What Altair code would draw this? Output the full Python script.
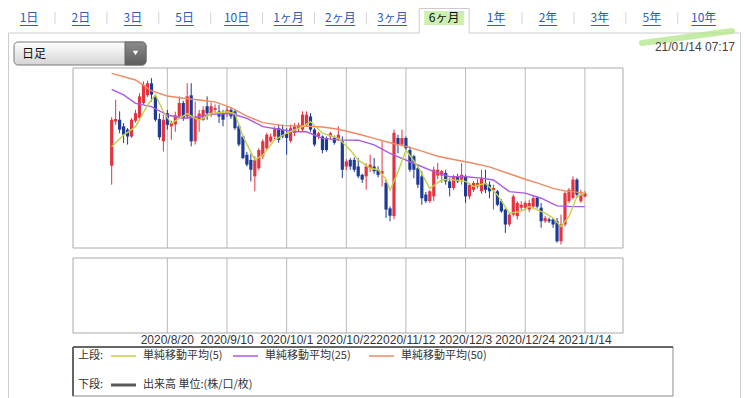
import altair as alt
import pandas as pd

# ---------------- data ----------------
opens = [104.67,105.88,105.93,105.75,105.66,105.47,105.90,105.98,106.39,106.60,
         106.93,106.57,105.95,105.34,106.11,105.75,105.80,106.02,106.39,106.02,
         106.60,105.34,105.95,105.93,106.30,106.07,106.20,106.16,106.11,106.11,
         106.20,106.16,105.75,105.47,104.97,104.83,104.38,104.60,104.93,105.15,
         105.34,105.47,105.70,105.66,105.56,105.35,105.57,105.70,105.66,105.79,
         106.02,105.66,105.47,105.47,105.43,105.47,105.43,105.38,105.34,104.65,
         104.83,104.83,104.65,104.42,104.38,104.60,104.65,104.56,104.45,104.20,
         103.50,103.29,105.43,105.25,105.43,105.10,104.93,104.60,104.38,103.88,
         103.70,103.83,104.40,104.40,104.47,104.24,104.06,104.38,104.29,104.38,
         103.83,104.01,104.10,103.97,104.20,104.15,104.00,103.97,103.70,103.47,
         103.06,103.33,103.29,103.52,103.52,103.47,103.55,103.80,103.52,103.15,
         103.20,103.20,103.15,102.60,103.06,103.70,103.79,104.29,103.70,103.83]
highs = [106.00,106.48,106.16,105.84,105.70,105.98,106.20,106.66,106.98,107.00,
         107.07,106.62,106.10,106.07,106.20,105.90,106.15,106.57,106.45,106.93,
         106.93,106.43,106.20,106.30,106.57,106.40,106.35,106.34,106.20,106.30,
         106.25,106.20,105.80,105.50,105.05,105.00,104.93,105.15,105.40,105.57,
         105.55,105.75,105.80,105.80,105.70,105.80,105.84,105.85,106.16,106.16,
         106.11,105.70,105.60,105.50,105.47,105.60,105.50,105.75,105.47,104.85,
         104.88,104.90,104.88,104.45,104.74,104.97,104.88,104.65,105.34,104.30,
         103.55,105.66,105.52,105.66,105.47,105.20,104.97,104.70,104.52,103.95,
         104.00,104.65,104.75,104.56,104.56,104.33,104.42,104.45,104.74,104.42,
         104.20,104.25,104.30,104.56,104.56,104.24,104.15,104.01,103.75,103.50,
         103.38,103.88,103.70,103.70,103.70,103.74,103.85,103.83,103.65,103.30,
         103.25,103.24,103.24,103.33,103.97,104.06,104.38,104.33,104.01,103.97]
lows = [104.15,105.79,105.56,105.29,105.25,105.43,105.85,105.90,106.35,106.55,
        106.43,105.88,105.38,105.06,105.66,105.38,105.60,106.00,105.90,105.95,
        105.20,105.25,105.60,105.90,105.93,106.00,106.10,105.84,105.75,106.00,
        105.95,105.65,105.20,104.85,104.65,104.24,103.97,104.55,104.85,105.10,
        105.30,105.40,105.30,105.42,104.97,105.30,105.48,105.60,105.61,105.75,
        105.60,105.20,105.40,105.01,105.06,105.40,105.25,105.35,104.33,104.55,
        104.56,104.50,104.33,104.20,104.01,104.50,104.45,104.35,104.10,103.24,
        103.15,103.20,105.01,105.20,105.06,104.50,104.33,104.06,103.60,103.65,
        103.65,103.70,104.30,104.20,104.15,103.83,104.00,104.20,104.15,103.65,
        103.75,103.95,104.05,103.90,103.92,103.78,103.47,103.56,103.38,102.83,
        103.00,103.28,103.20,103.45,103.45,103.40,103.50,103.50,102.97,103.10,
        103.10,102.97,102.56,102.51,103.00,103.65,103.75,103.79,103.65,103.80]
closes = [105.93,105.95,105.66,105.52,105.47,105.93,106.11,106.57,106.89,106.93,
          106.62,105.93,105.45,105.93,105.79,105.84,106.05,106.39,105.98,106.57,
          105.34,106.02,106.10,106.20,106.11,106.30,106.25,106.02,105.93,106.20,
          106.02,105.70,105.25,104.88,104.70,104.56,104.83,105.10,105.34,105.52,
          105.47,105.70,105.38,105.47,105.43,105.70,105.75,105.79,106.07,106.07,
          105.66,105.25,105.56,105.10,105.10,105.56,105.30,105.52,104.56,104.79,
          104.65,104.56,104.38,104.29,104.65,104.70,104.52,104.42,104.52,103.47,
          103.30,105.57,105.25,105.43,105.15,104.56,104.56,104.15,103.78,103.70,
          103.97,104.56,104.56,104.52,104.24,104.06,104.38,104.24,104.42,103.83,
          104.15,104.20,104.20,104.33,104.01,103.97,104.06,103.60,103.42,103.06,
          103.33,103.83,103.65,103.60,103.65,103.65,103.78,103.55,103.15,103.24,
          103.15,103.06,102.60,103.06,103.92,104.01,104.29,103.88,103.88,103.92]

ma5_idx = [0,3,6,9,11,13,15,17,19,21,22,25,29,31,33,36,38,41,44,48,50,53,57,60,62,65,67,
           69,70,72,74,77,80,83,85,89,91,94,97,100,103,105,109,111,113,115,117,119]
ma5_val = [105.19,105.51,105.74,106.33,106.61,106.15,105.83,105.97,106.10,105.97,105.92,
           106.10,106.15,106.10,105.47,104.83,104.96,105.38,105.56,105.74,105.88,105.56,
           105.42,105.10,104.83,104.60,104.56,104.30,104.00,104.50,105.10,104.65,104.05,
           104.28,104.30,104.24,104.10,104.19,103.87,103.37,103.42,103.55,103.37,103.24,
           103.00,103.28,103.82,103.92]
ma25_idx = [0,3,6,10,14,18,21,25,30,34,38,42,46,49,53,57,62,66,70,73,77,81,85,89,93,96,
            100,104,108,112,116,119]
ma25_val = [106.76,106.61,106.38,106.29,106.06,105.97,106.00,106.08,106.10,105.97,105.74,
            105.67,105.60,105.60,105.42,105.38,105.37,105.24,105.01,104.87,104.69,104.51,
            104.37,104.37,104.33,104.28,103.96,103.92,103.78,103.57,103.55,103.55]
ma50_idx = [0,6,10,14,18,22,26,30,34,38,43,48,53,57,62,66,70,74,78,82,86,90,95,100,104,
            107,111,114,119]
ma50_val = [107.20,107.02,106.72,106.58,106.52,106.47,106.42,106.26,106.03,105.85,105.77,
            105.76,105.73,105.67,105.54,105.42,105.30,105.20,105.07,104.93,104.84,104.76,
            104.64,104.45,104.30,104.20,104.05,103.98,103.92]

tick_idx = [14, 29, 44, 59, 74, 89, 104, 119]
tick_labels = ["2020/8/20", "2020/9/10", "2020/10/1", "2020/10/22",
               "2020/11/12", "2020/12/3", "2020/12/24", "2021/1/14"]
y_ticks = [103, 104, 105, 106, 107]

tabs = ["1日", "2日", "3日", "5日", "10日", "1ヶ月", "2ヶ月", "3ヶ月", "6ヶ月",
        "1年", "2年", "3年", "5年", "10年"]
selected_tab = "6ヶ月"
period_label = "日足"
timestamp = "21/01/14 07:17"
legend_upper_head = "上段:"
legend_lower_head = "下段:"
legend_upper = ["単純移動平均(5)", "単純移動平均(25)", "単純移動平均(50)"]
legend_lower = "出来高 単位:(株/口/枚)"

# ---------------- tables ----------------
candles = pd.DataFrame({"idx": list(range(len(opens))), "o": opens, "h": highs,
                        "l": lows, "c": closes})
candles["dir"] = ["up" if c >= o else "down" for o, c in zip(opens, closes)]
ma5 = pd.DataFrame({"idx": ma5_idx, "v": ma5_val})
ma25 = pd.DataFrame({"idx": ma25_idx, "v": ma25_val})
ma50 = pd.DataFrame({"idx": ma50_idx, "v": ma50_val})
ticks = pd.DataFrame({"idx": tick_idx, "label": tick_labels})
tabs_df = pd.DataFrame({"tab": tabs, "k": list(range(len(tabs)))})
one = pd.DataFrame({"k": [0]})

W, H = 550, 180
RED, BLUE = "#e5333f", "#1d3a96"
C5, C25, C50 = "#c3d147", "#ac58e6", "#ec8a62"
JP = "Noto Sans CJK JP"
NUM = "Liberation Sans"

xs = alt.Scale(domain=[-8.47, 127.33], nice=False, zero=False)
ys = alt.Scale(domain=[102.416, 107.348], nice=False, zero=False)
col = alt.Color("dir:N", scale=alt.Scale(domain=["up", "down"], range=[RED, BLUE]), legend=None)


def rect(x0, x1, y0, y1, **kw):
    return alt.Chart(one).mark_rect(**kw).encode(
        x=alt.value(x0), x2=alt.value(x1), y=alt.value(y0), y2=alt.value(y1))


def seg(x0, x1, y0, y1, **kw):
    return alt.Chart(one).mark_rule(**kw).encode(
        x=alt.value(x0), x2=alt.value(x1), y=alt.value(y0), y2=alt.value(y1))


def txt(s, x, y, **kw):
    return alt.Chart(one).mark_text(text=s, baseline="middle", **kw).encode(
        x=alt.value(x), y=alt.value(y))


layers = []
BOTTOM = 330

# ---- header: tabs ----
sel_k = tabs.index(selected_tab)
TAB0, STEP = -44, 51.9
sel_x = TAB0 + sel_k * STEP
layers.append(rect(sel_x - 20, sel_x + 20, -57, -43, fill="#c6eda0", opacity=0.85))
layers.append(seg(sel_x - 25, sel_x - 25, -59.5, -35, color="#cccccc"))
layers.append(seg(sel_x + 25, sel_x + 25, -59.5, -35, color="#cccccc"))
layers.append(seg(sel_x - 25, sel_x + 25, -59.5, -59.5, color="#cccccc"))
layers.append(seg(-64.5, sel_x - 25, -35, -35, color="#cccccc"))
layers.append(seg(sel_x + 25, 667.5, -35, -35, color="#cccccc"))
layers.append(seg(-64.5, -64.5, -35, BOTTOM, color="#cccccc"))
layers.append(seg(667.5, 667.5, -35, BOTTOM, color="#cccccc"))

layers.append(
    alt.Chart(tabs_df).transform_calculate(px=f"{TAB0} + datum.k * {STEP}")
    .mark_text(font=JP, fontSize=12, baseline="middle")
    .encode(x=alt.X("px:Q", scale=None), y=alt.value(-50), text="tab:N",
            color=alt.condition(alt.datum.tab == selected_tab, alt.value("#111111"),
                                alt.value("#2a5cb8")))
)
layers.append(
    alt.Chart(tabs_df).transform_filter(alt.datum.tab != selected_tab)
    .transform_calculate(
        px=f"{TAB0} + datum.k * {STEP}",
        w="6.6*length(replace(datum.tab, regexp('[^0-9]','g'), '')) + 11.5*length(replace(datum.tab, regexp('[0-9]','g'), ''))")
    .transform_calculate(x0="datum.px - datum.w/2", x1="datum.px + datum.w/2")
    .mark_rule(color="#2a5cb8", strokeWidth=1)
    .encode(x=alt.X("x0:Q", scale=None), x2="x1:Q", y=alt.value(-42.5))
)
layers.append(
    alt.Chart(tabs_df).transform_filter(f"datum.k < {len(tabs) - 1} && datum.k != {sel_k} && datum.k != {sel_k - 1}")
    .transform_calculate(sx=f"{TAB0} + (datum.k + 0.5) * {STEP}")
    .mark_rule(color="#d4d4d4")
    .encode(x=alt.X("sx:Q", scale=None), y=alt.value(-56), y2=alt.value(-44))
)

# ---- dropdown & timestamp ----
grad_box = alt.Gradient(gradient="linear", x1=0, x2=0, y1=0, y2=1,
                        stops=[alt.GradientStop(offset=0, color="#ffffff"),
                               alt.GradientStop(offset=1, color="#d4d4d4")])
grad_btn = alt.Gradient(gradient="linear", x1=0, x2=0, y1=0, y2=1,
                        stops=[alt.GradientStop(offset=0, color="#8c8c8c"),
                               alt.GradientStop(offset=1, color="#5c5c5c")])
layers.append(rect(-59, 73, -26, -3, fill=grad_box, stroke="#7a7a7a", strokeWidth=1, cornerRadius=4))
layers.append(rect(52, 73, -26, -3, fill=grad_btn, stroke="#666666", strokeWidth=1,
                   cornerRadiusTopRight=4, cornerRadiusBottomRight=4))
layers.append(alt.Chart(one).mark_point(shape="triangle-down", filled=True, color="white",
                                        size=28, opacity=1)
              .encode(x=alt.value(62.5), y=alt.value(-15)))
layers.append(txt(period_label, -51, -14, font=JP, fontSize=12, align="left", color="#111"))
layers.append(seg(569, 659, -25, -37, color="#b7e78f", strokeWidth=6, opacity=0.8, strokeCap="round"))
layers.append(txt(timestamp, 662, -21, font=NUM, fontSize=12, align="right", color="#444"))

# ---- main panel ----
layers.append(alt.Chart(ticks).mark_rule(color="#b9b9b9", strokeWidth=1)
              .encode(x=alt.X("idx:Q", scale=xs, axis=None), y=alt.value(0), y2=alt.value(H)))
layers.append(
    alt.Chart(candles).mark_rule(strokeWidth=1).encode(
        x=alt.X("idx:Q", scale=xs, axis=None),
        y=alt.Y("l:Q", scale=ys, axis=alt.Axis(
            orient="right", values=y_ticks, grid=True, gridColor="#d6d6d6", gridWidth=2,
            tickColor="#9a9a9a", tickSize=10, labelFont=NUM, labelFontSize=11,
            labelColor="#333", labelPadding=3, domain=False, title="", format="d")),
        y2="h:Q", color=col)
)
layers.append(
    alt.Chart(candles).mark_bar(size=3.2).encode(
        x=alt.X("idx:Q", scale=xs, axis=None),
        y=alt.Y("o:Q", scale=ys, axis=None), y2="c:Q", color=col)
)
for d, c in [(ma50, C50), (ma25, C25), (ma5, C5)]:
    layers.append(alt.Chart(d).mark_line(color=c, strokeWidth=1.4).encode(
        x=alt.X("idx:Q", scale=xs, axis=None), y=alt.Y("v:Q", scale=ys, axis=None)))
layers.append(rect(0, W, 0, H, fillOpacity=0, stroke="#aaaaaa", strokeWidth=1))

# ---- lower panel ----
LT, LB = 190, 265
layers.append(alt.Chart(ticks).mark_rule(color="#b9b9b9", strokeWidth=1)
              .encode(x=alt.X("idx:Q", scale=xs, axis=None), y=alt.value(LT), y2=alt.value(LB)))
layers.append(rect(0, W, LT, LB, fillOpacity=0, stroke="#aaaaaa", strokeWidth=1))
layers.append(alt.Chart(ticks).mark_text(font=NUM, fontSize=12, color="#333", baseline="middle")
              .encode(x=alt.X("idx:Q", scale=xs, axis=None), y=alt.value(272), text="label:N"))

# ---- legend box ----
LB0, LB1 = 279, 328
layers.append(rect(0, 600, LB0, LB1, fillOpacity=0, stroke="#8a8a8a", strokeWidth=1))
layers.append(seg(0, 600, LB0, LB0, color="#666666", strokeWidth=2))
layers.append(seg(0, 0, LB0, LB1, color="#666666", strokeWidth=2))
R1, R2 = 288, 317
layers.append(txt(legend_upper_head, 5, R1, font=JP, fontSize=11, align="left", color="#333"))
for (x0, x1, tx), c, lab in zip([(38, 63, 70), (160, 185, 192), (296, 321, 328)],
                                [C5, C25, C50], legend_upper):
    layers.append(seg(x0, x1, R1, R1, color=c, strokeWidth=1.5))
    layers.append(txt(lab, tx, R1, font=JP, fontSize=11, align="left", color="#333"))
layers.append(txt(legend_lower_head, 5, R2, font=JP, fontSize=11, align="left", color="#333"))
layers.append(seg(38, 63, R2, R2, color="#5a5a5a", strokeWidth=3))
layers.append(txt(legend_lower, 70, R2, font=JP, fontSize=11, align="left", color="#333"))

chart = alt.layer(*layers).properties(
    width=W, height=H,
    autosize=alt.AutoSizeParams(type="none"),
    padding={"left": 65, "top": 60, "right": 118, "bottom": 150},
    background="white",
).configure_view(strokeWidth=0)

chart.save("out.html", embed_options={"renderer": "svg", "actions": False})
